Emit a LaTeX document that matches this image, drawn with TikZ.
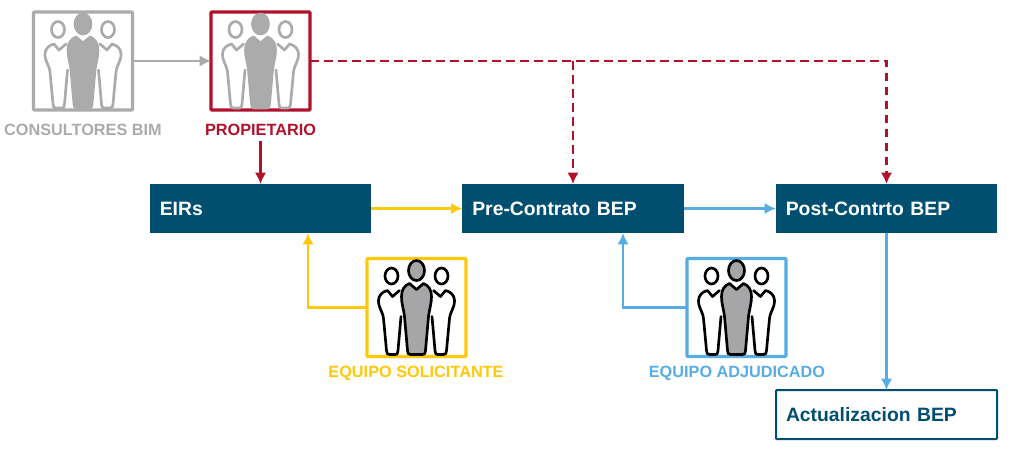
\documentclass[tikz,border=0pt]{standalone}
\usepackage{fontspec}
\setmainfont{Liberation Sans}
\usetikzlibrary{arrows.meta}
\definecolor{cgrey}{HTML}{ABABAB}
\definecolor{cred}{HTML}{B0122B}
\definecolor{cyel}{HTML}{FFC90B}
\definecolor{cblue}{HTML}{57ADE3}
\definecolor{cnavy}{HTML}{004F71}
\definecolor{cmid}{HTML}{A6A6A9}
\tikzset{
  x=0.75pt,y=-0.75pt,
  teambox/.style={draw=#1,line width=2.3pt,minimum width=74.25pt,minimum height=73.5pt,inner sep=0pt,outer sep=0pt,rounded corners=0.6pt},
  teamlabel/.style={text=#1,anchor=base,font=\bfseries\fontsize{12.2}{14}\selectfont,inner sep=0pt,outer sep=0pt},
  stagebox/.style={fill=cnavy,text=white,minimum width=166pt,minimum height=36.75pt,text width=151pt,align=left,inner sep=0pt,inner xsep=7.5pt,outer sep=0pt,font=\bfseries\fontsize{14.5}{16}\selectfont},
  outbox/.style={draw=cnavy,line width=1.5pt,fill=white,text=cnavy,minimum width=165.75pt,minimum height=36.75pt,text width=150.75pt,align=left,inner sep=0pt,inner xsep=7.5pt,outer sep=0pt,rounded corners=0.6pt,font=\bfseries\fontsize{14.5}{16}\selectfont},
  conn/.style={draw=#1,line width=1.6pt,-{Latex[length=8.5pt,width=8.5pt]}},
  dashconn/.style={draw=cred,line width=1.6pt,dash pattern=on 6.5pt off 4pt,-{Latex[length=8.5pt,width=8.5pt]}},
  pics/team/.style 2 args={code={
    \foreach \s in {1,-1}{
      \begin{scope}[xscale=\s]
        \draw[#1,line width=2pt,line join=round,line cap=round] (-25,17.5) ellipse [x radius=6.5,y radius=8];
        \draw[#1,line width=2pt,line join=round,line cap=round]
          (-17,32) -- (-24,38) -- (-29,32) .. controls (-34,33) and (-38,37) .. (-38,42)
          .. controls (-38,50) and (-34,52) .. (-33,60) -- (-30,92)
          .. controls (-30,95) and (-29,96) .. (-27,96) -- (-21,96)
          .. controls (-19,96) and (-19,95) .. (-18.5,92) -- (-15.5,58);
      \end{scope}
    }
    \filldraw[draw=#1,fill=#2,line width=2pt,line join=round] (0,12) ellipse [x radius=8,y radius=10];
    \filldraw[draw=#1,fill=#2,line width=2pt,line join=round]
      (-7,25) -- (0,31) -- (7,25) .. controls (12,27) and (15,31) .. (15,38)
      .. controls (15,45) and (13,50) .. (12,58) -- (9,92) .. controls (9,95) and (8,96) .. (6,96)
      -- (-6,96) .. controls (-8,96) and (-9,95) .. (-9,92) -- (-12,58)
      .. controls (-13,50) and (-15,45) .. (-15,38) .. controls (-15,31) and (-12,27) .. (-7,25) -- cycle;
  }},
}
\begin{document}
\begin{tikzpicture}
\useasboundingbox (0,0) rectangle (1024,451);
\fill[white] (0,0) rectangle (1024,451);
% team boxes
\node[teambox=cgrey] (cons) at (83,61) {};
\node[teambox=cred] (prop) at (260.5,61) {};
\node[teambox=cyel] (soli) at (416.5,307.5) {};
\node[teambox=cblue] (adju) at (736.5,307.5) {};
\pic at (cons.north) {team={cgrey}{cgrey}};
\pic at (prop.north) {team={cgrey}{cgrey}};
\pic at (soli.north) {team={black}{cmid}};
\pic at (adju.north) {team={black}{cmid}};
% labels
\node[teamlabel=cgrey] (consl) at (83,135) {CONSULTORES BIM};
\node[teamlabel=cred] (propl) at (260.5,135) {PROPIETARIO};
\node[teamlabel=cyel] (solil) at (416,377) {EQUIPO SOLICITANTE};
\node[teamlabel=cblue] (adjul) at (737,377) {EQUIPO ADJUDICADO};
% stage boxes
\node[stagebox] (eirs) at (260.5,208.5) {EIRs};
\node[stagebox] (pre) at (573,208.5) {Pre-Contrato BEP};
\node[stagebox] (post) at (886.5,208.5) {Post-Contrto BEP};
\node[outbox] (act) at (886.5,414.5) {Actualizacion BEP};
% connectors
\coordinate (junc) at (pre.north |- prop.east);
\coordinate (eirsin) at (308,233);
\coordinate (prein) at (623,233);
\draw[conn=cgrey] (cons) -- (prop);
\draw[conn=cred,shorten <=4.5pt] (propl) -- (eirs);
\draw[dashconn] (prop.east) -| (post.north);
\draw[dashconn] (junc) -- (pre.north);
\draw[conn=cyel] (eirs) -- (pre);
\draw[conn=cblue] (pre) -- (post);
\draw[conn=cblue] (post) -- (act);
\draw[conn=cyel] (soli.west) -| (eirsin);
\draw[conn=cblue] (adju.west) -| (prein);
\end{tikzpicture}
\end{document}
